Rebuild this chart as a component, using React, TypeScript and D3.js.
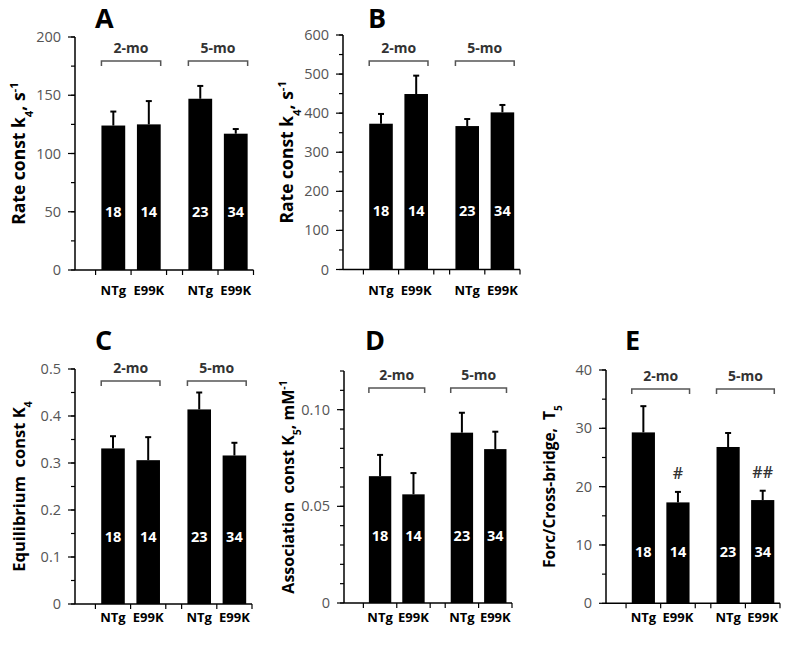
import * as d3 from "d3";

const categories = ["NTg", "E99K", "NTg", "E99K"];
const ageGroups = ["2-mo", "5-mo"];
const counts = ["18", "14", "23", "34"];

// panel A: rate const k4
const rateA = [124, 125, 147, 117];
const rateAErr = [12, 20, 11, 4];
// panel B: rate const k4
const rateB = [373, 449, 367, 402];
const rateBErr = [25, 47, 18, 19];
// panel C: equilibrium const K4
const equilK4 = [0.331, 0.306, 0.414, 0.316];
const equilK4Err = [0.026, 0.049, 0.036, 0.027];
// panel D: association const K5
const assocK5 = [0.0656, 0.0562, 0.0881, 0.0796];
const assocK5Err = [0.011, 0.011, 0.0103, 0.009];
// panel E: force per cross-bridge T5
const forceT5 = [29.3, 17.3, 26.8, 17.7];
const forceT5Err = [4.5, 1.8, 2.4, 1.6];
const forceMarks = ["", "#", "", "##"];

const ticksA = [0, 50, 100, 150, 200];
const ticksB = [0, 100, 200, 300, 400, 500, 600];
const ticksC = [0, 0.1, 0.2, 0.3, 0.4, 0.5];
const ticksD = [0, 0.05, 0.1];
const ticksE = [0, 10, 20, 30, 40];

// slot positions on the x axis (group gap between 2-mo and 5-mo)
const barSlots = [0.5, 1.5, 2.95, 3.95];
const axisTickSlots = [0, 1, 2, 2.45, 3.45, 4.45];

const FONT = "'Open Sans', 'Liberation Sans', Arial, sans-serif";

type PanelCfg = {
  letter: string;
  lx: number; ly: number;
  left: number; right: number; top: number; bottom: number;
  max: number; minor: number;
  ticks: number[]; fmt: (v: number) => string;
  values: number[]; errs: number[];
  marks?: string[];
  bracketY: number;
  catY: number;
  countOffset: number;
  ylabel: JSX.Element;
  ylabelSize: number;
};

function Panel({ c }: { c: PanelCfg }) {
  const x = d3.scaleLinear().domain([-0.58, 4.45]).range([c.left, c.right]);
  const y = d3.scaleLinear().domain([0, c.max]).range([c.bottom, c.top]);
  const bw = (x(1) - x(0)) * 0.67;
  const minorTicks = d3.range(0, c.max + c.minor / 2, c.minor);

  return (
    <g>
      <text x={c.lx} y={c.ly} fontSize={27} fontWeight={700} fontFamily={FONT}>{c.letter}</text>

      {/* y axis */}
      <line x1={c.left} x2={c.left} y1={c.top} y2={c.bottom} stroke="#000" strokeWidth={1.5} />
      {minorTicks.map((t, i) => (
        <line key={"m" + i} x1={c.left - 4} x2={c.left} y1={y(t)} y2={y(t)} stroke="#000" strokeWidth={1.2} />
      ))}
      {c.ticks.map((t, i) => (
        <g key={"t" + i}>
          <line x1={c.left - 7} x2={c.left} y1={y(t)} y2={y(t)} stroke="#000" strokeWidth={1.2} />
          <text x={c.left - 14} y={y(t)} dy="0.35em" textAnchor="end" fontSize={14.5} fill="#555" fontFamily={FONT}>
            {c.fmt(t)}
          </text>
        </g>
      ))}
      <text
        transform={`translate(${c.left - 56},${(c.top + c.bottom) / 2}) rotate(-90)`}
        dy="0.35em" textAnchor="middle" fontSize={c.ylabelSize} fontWeight={700} fontFamily={FONT}
        style={{ whiteSpace: "pre" }}
      >
        {c.ylabel}
      </text>

      {/* x axis */}
      <line x1={c.left} x2={c.right} y1={c.bottom} y2={c.bottom} stroke="#000" strokeWidth={1.5} />
      {axisTickSlots.map((s, i) => (
        <line key={"xt" + i} x1={x(s)} x2={x(s)} y1={c.bottom} y2={c.bottom + 5} stroke="#000" strokeWidth={1.2} />
      ))}

      {/* bars */}
      {c.values.map((v, i) => {
        const cx = x(barSlots[i]);
        const capY = y(v + c.errs[i]);
        return (
          <g key={"b" + i}>
            <line x1={cx} x2={cx} y1={y(v)} y2={capY} stroke="#000" strokeWidth={2} />
            <line x1={cx - 3} x2={cx + 3} y1={capY} y2={capY} stroke="#000" strokeWidth={2} />
            <rect x={cx - bw / 2} y={y(v)} width={bw} height={c.bottom - y(v)} fill="#000" />
            <text x={cx} y={c.bottom - c.countOffset} dy="0.35em" textAnchor="middle" fontSize={14.5}
              fontWeight={700} fill="#fff" fontFamily={FONT}>{counts[i]}</text>
            {c.marks && c.marks[i] && (
              <text x={cx} y={capY - 13} textAnchor="middle" fontSize={16} fontWeight={600} fill="#333" fontFamily={FONT}>
                {c.marks[i]}
              </text>
            )}
            <text x={cx} y={c.catY} textAnchor="middle" fontSize={13} fontWeight={700} fontFamily={FONT}>
              {categories[i]}
            </text>
          </g>
        );
      })}

      {/* age brackets */}
      {ageGroups.map((g, k) => {
        const xl = x(barSlots[k * 2]) - bw / 2;
        const xr = x(barSlots[k * 2 + 1]) + bw / 2;
        return (
          <g key={"g" + k}>
            <path d={`M${xl},${c.bracketY + 5}V${c.bracketY}H${xr}V${c.bracketY + 5}`} fill="none"
              stroke="#555" strokeWidth={1.5} />
            <text x={(xl + xr) / 2} y={c.bracketY - 8} textAnchor="middle" fontSize={14} fontWeight={700}
              fill="#333" fontFamily={FONT}>{g}</text>
          </g>
        );
      })}
    </g>
  );
}

const sub = (t: string) => <tspan baselineShift="sub" fontSize="0.65em">{t}</tspan>;
const sup = (t: string) => <tspan baselineShift="super" fontSize="0.65em">{t}</tspan>;

export default function App() {
  const panels: PanelCfg[] = [
    {
      letter: "A", lx: 95, ly: 28, left: 75, right: 253.5, top: 37, bottom: 270, max: 200, minor: 25,
      ticks: ticksA, fmt: d3.format("d"), values: rateA, errs: rateAErr, bracketY: 61, catY: 295, countOffset: 58,
      ylabel: <>Rate const k{sub("4")}, s{sup("-1")}</>, ylabelSize: 17.5,
    },
    {
      letter: "B", lx: 368, ly: 28, left: 343, right: 520, top: 35, bottom: 269.5, max: 600, minor: 50,
      ticks: ticksB, fmt: d3.format("d"), values: rateB, errs: rateBErr, bracketY: 61, catY: 295, countOffset: 59,
      ylabel: <>Rate const k{sub("4")}, s{sup("-1")}</>, ylabelSize: 17.5,
    },
    {
      letter: "C", lx: 95, ly: 350, left: 75, right: 252, top: 369, bottom: 604, max: 0.5, minor: 0.05,
      ticks: ticksC, fmt: (v) => (v === 0 ? "0" : d3.format(".1f")(v)), values: equilK4, errs: equilK4Err,
      bracketY: 381, catY: 622, countOffset: 67,
      ylabel: <>Equilibrium  const K{sub("4")}</>, ylabelSize: 16.5,
    },
    {
      letter: "D", lx: 365, ly: 350, left: 344, right: 512, top: 371, bottom: 603, max: 0.12, minor: 0.01,
      ticks: ticksD, fmt: (v) => (v === 0 ? "0" : d3.format(".2f")(v)), values: assocK5, errs: assocK5Err,
      bracketY: 388, catY: 622, countOffset: 67,
      ylabel: <>Association  const K{sub("5")}, mM{sup("-1")}</>, ylabelSize: 16,
    },
    {
      letter: "E", lx: 625, ly: 350, left: 606, right: 780, top: 370, bottom: 603.3, max: 40, minor: 5,
      ticks: ticksE, fmt: d3.format("d"), values: forceT5, errs: forceT5Err, marks: forceMarks,
      bracketY: 389, catY: 622, countOffset: 51,
      ylabel: <>Forc/Cross-bridge,  T{sub("5")}</>, ylabelSize: 15.5,
    },
  ];

  return (
    <svg width={800} height={646} style={{ position: "absolute", left: 0, top: 0, background: "#fff" }}>
      <rect width={800} height={646} fill="#fff" />
      {panels.map((p) => (
        <Panel key={p.letter} c={p} />
      ))}
    </svg>
  );
}
